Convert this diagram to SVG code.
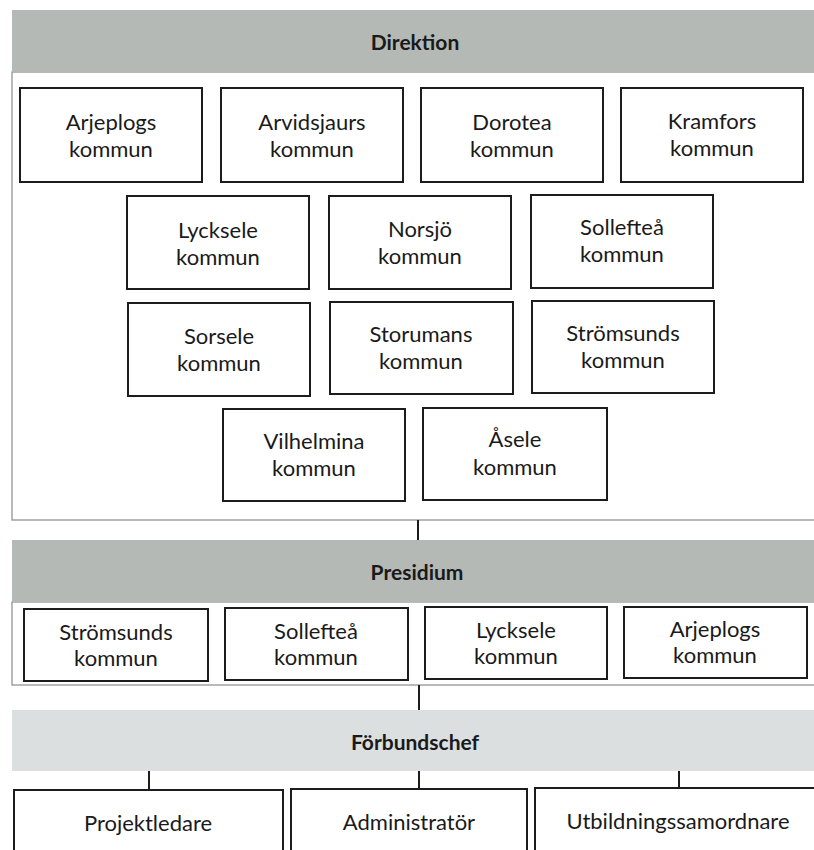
<svg xmlns="http://www.w3.org/2000/svg" width="814" height="850" viewBox="0 0 814 850">
<style>
.bg{fill:#ffffff}
.hdr{fill:#b4b9b6}
.hdr2{fill:#dcdfe0}
.panel{fill:#ffffff;stroke:#8a8a8a;stroke-width:1.2}
.box{fill:#ffffff;stroke:#1c1c1c;stroke-width:2}
.t{font-family:Lato,"Open Sans","Liberation Sans",sans-serif;font-size:22px;fill:#1a1a1a;text-anchor:middle;dominant-baseline:central}
.h{font-family:Lato,"Open Sans","Liberation Sans",sans-serif;font-size:21px;font-weight:bold;fill:#1a1a1a;text-anchor:middle;dominant-baseline:central}
.conn{stroke:#1c1c1c;stroke-width:2;fill:none}
</style>
<rect class="bg" x="0" y="0" width="814" height="850"/>

<g id="direktion">
  <rect class="panel" x="12" y="72" width="820" height="448"/>
  <rect class="hdr" x="12" y="10" width="820" height="62"/>
  <text class="h" x="415" y="41">Direktion</text>
</g>

<g id="d-arjeplogs"><rect class="box" x="20" y="88" width="182" height="94"/><text class="t" x="111" y="121">Arjeplogs</text><text class="t" x="111" y="148">kommun</text></g>
<g id="d-arvidsjaurs"><rect class="box" x="221" y="88" width="182" height="94"/><text class="t" x="312" y="121">Arvidsjaurs</text><text class="t" x="312" y="148">kommun</text></g>
<g id="d-dorotea"><rect class="box" x="421" y="88" width="182" height="94"/><text class="t" x="512" y="121">Dorotea</text><text class="t" x="512" y="148">kommun</text></g>
<g id="d-kramfors"><rect class="box" x="621" y="88" width="182" height="94"/><text class="t" x="712" y="120">Kramfors</text><text class="t" x="712" y="147">kommun</text></g>

<g id="d-lycksele"><rect class="box" x="127" y="196" width="182" height="93"/><text class="t" x="218" y="229">Lycksele</text><text class="t" x="218" y="256">kommun</text></g>
<g id="d-norsjo"><rect class="box" x="329" y="196" width="182" height="93"/><text class="t" x="420" y="228">Norsjö</text><text class="t" x="420" y="255">kommun</text></g>
<g id="d-solleftea"><rect class="box" x="531" y="195" width="182" height="93"/><text class="t" x="622" y="226">Sollefteå</text><text class="t" x="622" y="253">kommun</text></g>

<g id="d-sorsele"><rect class="box" x="128" y="303" width="182" height="93"/><text class="t" x="219" y="335">Sorsele</text><text class="t" x="219" y="362">kommun</text></g>
<g id="d-storumans"><rect class="box" x="330" y="302" width="183" height="92"/><text class="t" x="421" y="333">Storumans</text><text class="t" x="421" y="360">kommun</text></g>
<g id="d-stromsunds"><rect class="box" x="532" y="301" width="182" height="92"/><text class="t" x="623" y="332">Strömsunds</text><text class="t" x="623" y="359">kommun</text></g>

<g id="d-vilhelmina"><rect class="box" x="223" y="409" width="182" height="92"/><text class="t" x="314" y="440">Vilhelmina</text><text class="t" x="314" y="467">kommun</text></g>
<g id="d-asele"><rect class="box" x="423" y="408" width="184" height="92"/><text class="t" x="515" y="438">Åsele</text><text class="t" x="515" y="466">kommun</text></g>

<g id="presidium">
  <rect class="panel" x="12" y="602" width="820" height="83"/>
  <rect class="hdr" x="12" y="540" width="820" height="62"/>
  <text class="h" x="417" y="571">Presidium</text>
</g>

<g id="p-stromsunds"><rect class="box" x="24" y="609" width="184" height="72"/><text class="t" x="116" y="631">Strömsunds</text><text class="t" x="116" y="657">kommun</text></g>
<g id="p-solleftea"><rect class="box" x="225" y="608" width="183" height="72"/><text class="t" x="316" y="630">Sollefteå</text><text class="t" x="316" y="656">kommun</text></g>
<g id="p-lycksele"><rect class="box" x="425" y="607" width="182" height="72"/><text class="t" x="516" y="629">Lycksele</text><text class="t" x="516" y="655">kommun</text></g>
<g id="p-arjeplogs"><rect class="box" x="624" y="607" width="183" height="71"/><text class="t" x="715" y="628">Arjeplogs</text><text class="t" x="715" y="654">kommun</text></g>

<g id="forbundschef">
  <rect class="hdr2" x="12" y="710" width="820" height="61"/>
  <text class="h" x="415" y="741">Förbundschef</text>
</g>

<g id="projektledare"><rect class="box" x="14" y="790" width="269" height="80"/><text class="t" x="148" y="822">Projektledare</text></g>
<g id="administrator"><rect class="box" x="291" y="789" width="236" height="80"/><text class="t" x="409" y="821">Administratör</text></g>
<g id="utbildningssamordnare"><rect class="box" x="535" y="788" width="300" height="80"/><text class="t" x="678" y="820">Utbildningssamordnare</text></g>

<g id="connectors">
  <line class="conn" x1="418" y1="520" x2="418" y2="540"/>
  <line class="conn" x1="419" y1="685" x2="419" y2="710"/>
  <line class="conn" x1="149" y1="771" x2="149" y2="790"/>
  <line class="conn" x1="419" y1="771" x2="419" y2="789"/>
  <line class="conn" x1="679" y1="771" x2="679" y2="788"/>
</g>
</svg>
